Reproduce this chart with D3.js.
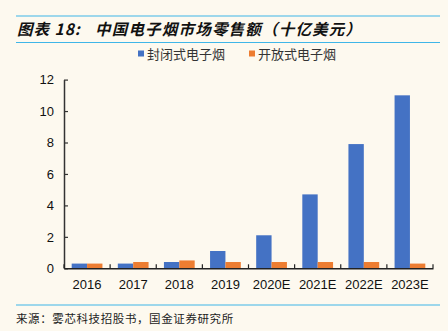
<!DOCTYPE html>
<html><head><meta charset="utf-8">
<script src="https://cdn.jsdelivr.net/npm/d3@7"></script>
<style>
html,body{margin:0;padding:0;background:#fdf9ef;}
svg{display:block;}
</style></head>
<body>
<svg id="c" width="448" height="331"></svg>
<script>
const categories = ["2016","2017","2018","2019","2020E","2021E","2022E","2023E"];
const closedValues = [0.3,0.3,0.4,1.1,2.1,4.7,7.9,11.0];
const openValues = [0.3,0.4,0.5,0.4,0.4,0.4,0.4,0.3];
const seriesNames = ["封闭式电子烟","开放式电子烟"];
const seriesColors = ["#4472c4","#ed7d31"];
const yTicks = [0,2,4,6,8,10,12];
const titleLabel = "图表 18:";
const titleText = "中国电子烟市场零售额（十亿美元）";
const sourceText = "来源：雾芯科技招股书，国金证券研究所";

const svg = d3.select("#c");
const W = 448, H = 331;
svg.append("rect").attr("width",W).attr("height",H).attr("fill","#fdf9ef");

// title block
svg.append("line").attr("x1",16).attr("x2",440).attr("y1",16).attr("y2",16).attr("stroke","#3fb6e8").attr("stroke-width",1.2);
svg.append("line").attr("x1",16).attr("x2",440).attr("y1",42.5).attr("y2",42.5).attr("stroke","#3fb6e8").attr("stroke-width",1.2);
const tfont = "'Noto Sans CJK SC', sans-serif";
svg.append("text").attr("x",17).attr("y",35).text(titleLabel)
  .attr("font-family",tfont).attr("font-size",15.5).attr("font-weight","bold").attr("font-style","italic")
  .attr("letter-spacing",1).attr("fill","#111");
svg.append("text").attr("x",95).attr("y",35).text(titleText)
  .attr("font-family",tfont).attr("font-size",15.5).attr("font-weight","bold").attr("font-style","italic")
  .attr("letter-spacing",1.2).attr("fill","#111");

// bottom
svg.append("line").attr("x1",16).attr("x2",440).attr("y1",305).attr("y2",305).attr("stroke","#3fb6e8").attr("stroke-width",1.2);
svg.append("text").attr("x",16).attr("y",323).text(sourceText)
  .attr("font-family",tfont).attr("font-size",11.5).attr("letter-spacing",0.6).attr("fill","#222");

// legend
const leg = svg.append("g");
const legX = [138, 249];
seriesNames.forEach((n,i)=>{
  leg.append("rect").attr("x",legX[i]).attr("y",50.5).attr("width",6).attr("height",6).attr("fill",seriesColors[i]);
  leg.append("text").attr("x",legX[i]+9).attr("y",58.5).text(n)
    .attr("font-family",tfont).attr("font-size",13).attr("fill","#333");
});

// chart
const x0 = 64, x1 = 433, yTop = 79.6, yBot = 268.3;
const x = d3.scaleBand().domain(categories).range([x0,x1]).paddingInner(0).paddingOuter(0);
const xs = d3.scaleBand().domain([0,1]).range([0,x.bandwidth()]).paddingInner(0).paddingOuter(0.5);
const y = d3.scaleLinear().domain([0,12]).range([yBot,yTop]);

const data = categories.map((c,i)=>({c, v:[closedValues[i],openValues[i]]}));
const g = svg.append("g");
data.forEach(d=>{
  d.v.forEach((v,k)=>{
    g.append("rect").attr("x",x(d.c)+xs(k)).attr("width",xs.bandwidth())
      .attr("y",y(v)).attr("height",yBot-y(v)).attr("fill",seriesColors[k]);
  });
});

// y axis
const yAx = svg.append("g").attr("transform",`translate(${x0},0)`)
  .call(d3.axisLeft(y).tickValues(yTicks).tickSizeInner(-4).tickSizeOuter(0).tickPadding(10));
yAx.select(".domain").attr("stroke","#333").attr("stroke-width",1.5);
yAx.selectAll(".tick line").attr("stroke","#333").attr("stroke-width",1.2);
yAx.selectAll("text").attr("font-family","'Liberation Sans', Arial, sans-serif").attr("font-size",13).attr("fill","#111");

// x axis
const xAx = svg.append("g").attr("transform",`translate(0,${yBot})`)
  .call(d3.axisBottom(x).tickSize(0).tickPadding(11));
xAx.select(".domain").attr("stroke","#222").attr("stroke-width",1.5);
xAx.selectAll("text").attr("font-family","'Liberation Sans', Arial, sans-serif").attr("font-size",13).attr("fill","#111");
const bounds = categories.map(c=>x(c)).concat([x1]);
svg.append("g").selectAll("line").data(bounds).join("line")
  .attr("x1",d=>d).attr("x2",d=>d).attr("y1",yBot-4).attr("y2",yBot).attr("stroke","#222").attr("stroke-width",1.2);
</script>
</body></html>
